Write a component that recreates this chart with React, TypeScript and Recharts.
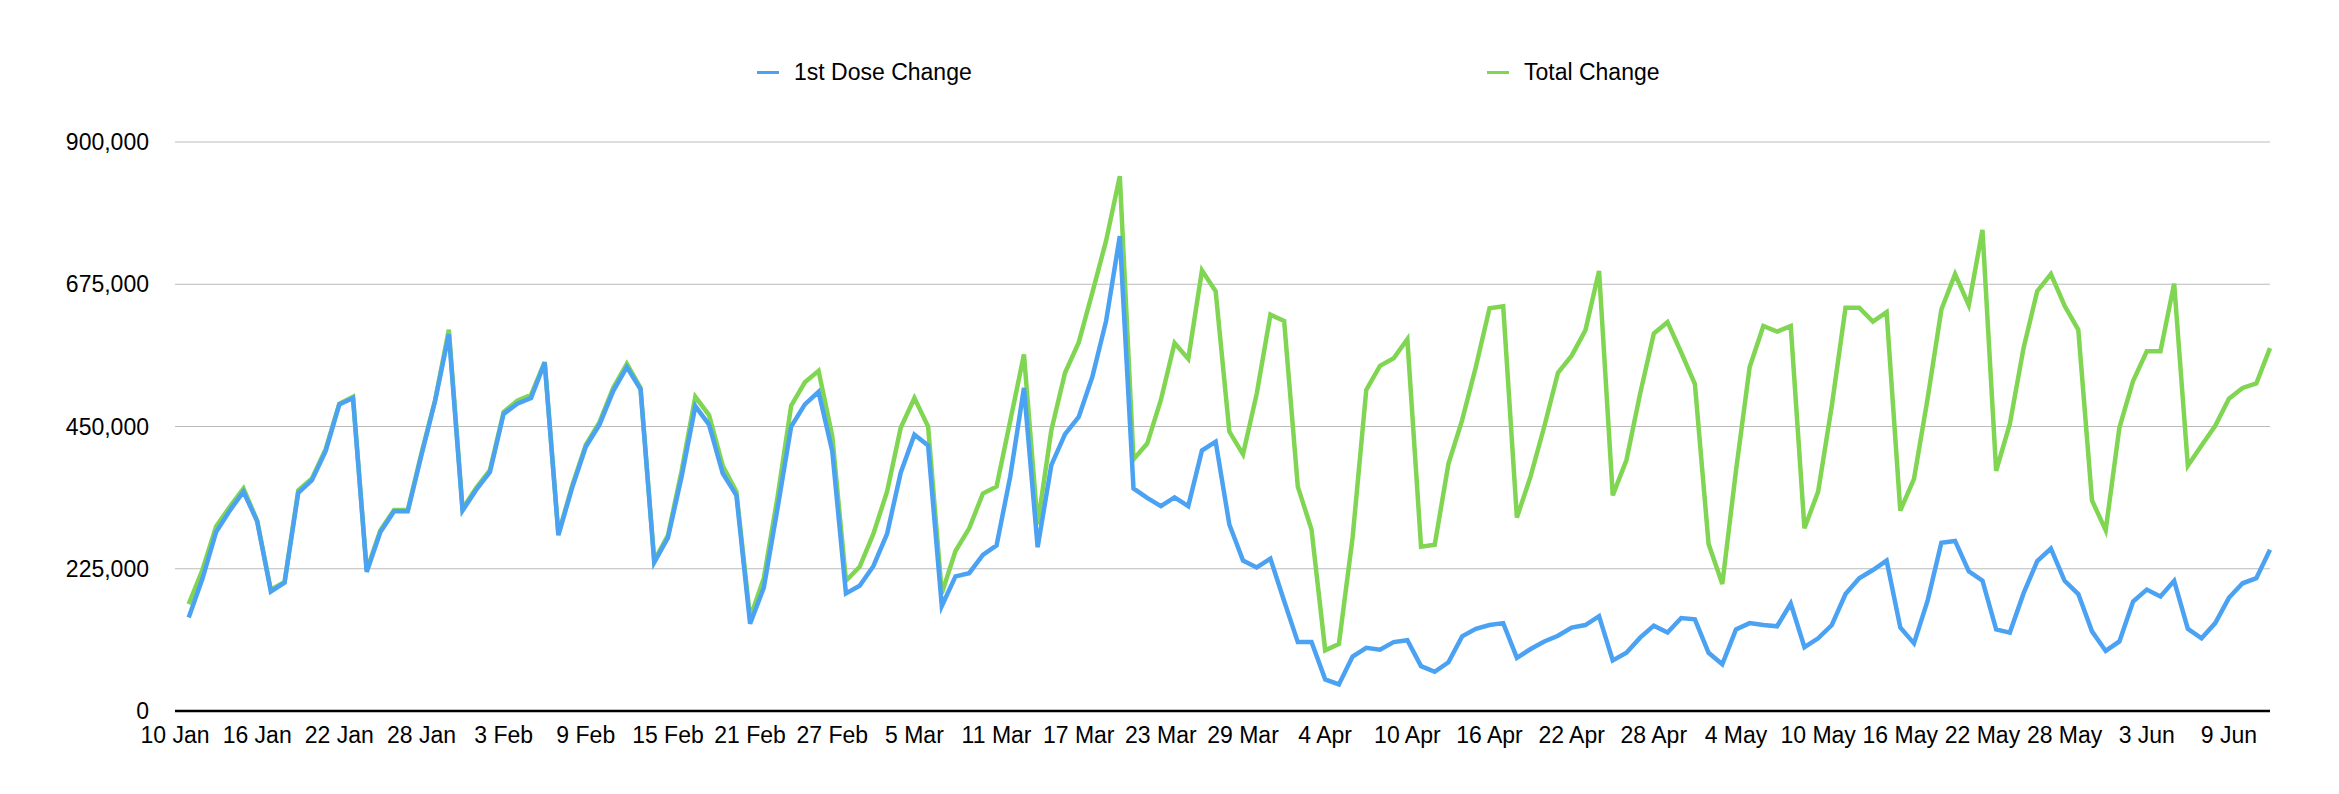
import React from "react";
import { LineChart, Line, XAxis, YAxis, CartesianGrid, Legend } from "recharts";

const dates: string[] = [
  "10 Jan","11 Jan","12 Jan","13 Jan","14 Jan","15 Jan","16 Jan","17 Jan","18 Jan","19 Jan","20 Jan",
  "21 Jan","22 Jan","23 Jan","24 Jan","25 Jan","26 Jan","27 Jan","28 Jan","29 Jan","30 Jan","31 Jan",
  "1 Feb","2 Feb","3 Feb","4 Feb","5 Feb","6 Feb","7 Feb","8 Feb","9 Feb","10 Feb","11 Feb","12 Feb",
  "13 Feb","14 Feb","15 Feb","16 Feb","17 Feb","18 Feb","19 Feb","20 Feb","21 Feb","22 Feb","23 Feb",
  "24 Feb","25 Feb","26 Feb","27 Feb","28 Feb",
  "1 Mar","2 Mar","3 Mar","4 Mar","5 Mar","6 Mar","7 Mar","8 Mar","9 Mar","10 Mar","11 Mar","12 Mar",
  "13 Mar","14 Mar","15 Mar","16 Mar","17 Mar","18 Mar","19 Mar","20 Mar","21 Mar","22 Mar","23 Mar",
  "24 Mar","25 Mar","26 Mar","27 Mar","28 Mar","29 Mar","30 Mar","31 Mar",
  "1 Apr","2 Apr","3 Apr","4 Apr","5 Apr","6 Apr","7 Apr","8 Apr","9 Apr","10 Apr","11 Apr","12 Apr",
  "13 Apr","14 Apr","15 Apr","16 Apr","17 Apr","18 Apr","19 Apr","20 Apr","21 Apr","22 Apr","23 Apr",
  "24 Apr","25 Apr","26 Apr","27 Apr","28 Apr","29 Apr","30 Apr",
  "1 May","2 May","3 May","4 May","5 May","6 May","7 May","8 May","9 May","10 May","11 May","12 May",
  "13 May","14 May","15 May","16 May","17 May","18 May","19 May","20 May","21 May","22 May","23 May",
  "24 May","25 May","26 May","27 May","28 May","29 May","30 May","31 May",
  "1 Jun","2 Jun","3 Jun","4 Jun","5 Jun","6 Jun","7 Jun","8 Jun","9 Jun","10 Jun","11 Jun","12 Jun",
];

const firstDoseChange: (number | null)[] = [
  null,
  148000, 209000, 283000, 317000, 347000, 300000, 189000, 203000, 345000, 365000,
  411000, 485000, 495000, 220000, 283000, 316000, 316000, 405000, 491000, 596000,
  317000, 350000, 378000, 470000, 486000, 495000, 551000, 278000, 353000, 418000,
  453000, 506000, 544000, 509000, 235000, 274000, 371000, 482000, 453000, 376000,
  341000, 138000, 195000, 320000, 450000, 485000, 505000, 411000, 186000, 198000,
  229000, 280000, 377000, 437000, 420000, 166000, 213000, 218000, 247000, 262000,
  371000, 511000, 259000, 389000, 438000, 465000, 529000, 617000, 751000, 352000,
  337000, 324000, 338000, 324000, 412000, 426000, 295000, 238000, 227000, 241000,
  174000, 109000, 109000, 50000, 42000, 86000, 100000, 97000, 109000, 112000,
  71000, 62000, 77000, 118000, 130000, 136000, 139000, 84000, 98000, 110000,
  119000, 132000, 136000, 150000, 80000, 92000, 116000, 135000, 124000, 147000,
  145000, 92000, 74000, 129000, 139000, 136000, 134000, 170000, 101000, 115000,
  136000, 185000, 210000, 223000, 238000, 132000, 107000, 175000, 266000, 269000,
  221000, 206000, 129000, 124000, 186000, 237000, 257000, 206000, 185000, 126000,
  95000, 110000, 173000, 192000, 181000, 206000, 130000, 115000, 139000, 179000,
  202000, 210000, 255000,
];

const totalChange: (number | null)[] = [
  null,
  169000, 223000, 292000, 323000, 352000, 301000, 192000, 204000, 349000, 368000,
  414000, 486000, 497000, 223000, 286000, 318000, 318000, 408000, 492000, 603000,
  320000, 353000, 381000, 473000, 491000, 500000, 552000, 280000, 356000, 421000,
  457000, 511000, 549000, 511000, 238000, 278000, 380000, 497000, 468000, 388000,
  347000, 147000, 210000, 338000, 483000, 520000, 538000, 435000, 206000, 228000,
  280000, 347000, 448000, 495000, 450000, 186000, 253000, 289000, 344000, 355000,
  459000, 564000, 295000, 444000, 535000, 583000, 662000, 744000, 846000, 398000,
  423000, 492000, 582000, 557000, 697000, 664000, 442000, 406000, 502000, 627000,
  617000, 355000, 287000, 96000, 106000, 274000, 508000, 546000, 558000, 588000,
  260000, 263000, 391000, 460000, 544000, 637000, 640000, 306000, 371000, 450000,
  535000, 562000, 602000, 696000, 341000, 397000, 502000, 597000, 615000, 567000,
  517000, 264000, 201000, 380000, 544000, 609000, 600000, 609000, 289000, 347000,
  483000, 638000, 638000, 616000, 631000, 317000, 367000, 495000, 635000, 691000,
  642000, 761000, 380000, 454000, 574000, 664000, 691000, 641000, 603000, 333000,
  286000, 448000, 522000, 569000, 569000, 676000, 388000, 420000, 451000, 494000,
  511000, 518000, 574000,
];

const yTicks: number[] = [0, 225000, 450000, 675000, 900000];

const data = dates.map((date, i) => ({
  date,
  firstDose: firstDoseChange[i],
  total: totalChange[i],
}));

const BLUE = "#4ba2f2";
const GREEN = "#80d552";
const FONT = "'Liberation Sans', Arial, Helvetica, sans-serif";

const legendItems = [
  { label: "1st Dose Change", color: BLUE, left: 749 },
  { label: "Total Change", color: GREEN, left: 1479 },
];

const renderLegend = () => (
  <div style={{ position: "relative", width: 2323, height: 32, fontFamily: FONT }}>
    {legendItems.map((it) => (
      <div
        key={it.label}
        style={{
          position: "absolute",
          left: it.left,
          top: 0,
          height: 32,
          display: "flex",
          alignItems: "center",
          fontSize: 23,
          color: "#000",
          whiteSpace: "nowrap",
        }}
      >
        <span style={{ display: "inline-block", width: 22, height: 3, background: it.color, marginRight: 15 }} />
        <span>{it.label}</span>
      </div>
    ))}
  </div>
);

export default function App() {
  return (
    <div style={{ width: 2323, height: 778, background: "#fff", fontFamily: FONT }}>
      <LineChart
        width={2323}
        height={778}
        data={data}
        margin={{ top: 102, right: 61, bottom: 15, left: 0 }}
      >
        <Legend
          verticalAlign="top"
          content={renderLegend}
          wrapperStyle={{ top: 48, left: 0, width: 2323, height: 32 }}
        />
        <CartesianGrid vertical={false} stroke="#bbbbbb" strokeWidth={1} />
        <XAxis
          dataKey="date"
          interval={5}
          tickLine={false}
          tickSize={0}
          tickMargin={16}
          height={60}
          axisLine={{ stroke: "#000", strokeWidth: 2.5 }}
          tick={{ fontSize: 23, fill: "#000", fontFamily: FONT }}
        />
        <YAxis
          width={167}
          domain={[0, 900000]}
          ticks={yTicks}
          interval={0}
          axisLine={false}
          tickLine={false}
          tickSize={0}
          tickMargin={26}
          tickFormatter={(v: number) => v.toLocaleString("en-US")}
          tick={{ fontSize: 23, fill: "#000", fontFamily: FONT }}
        />
        <Line
          type="linear"
          dataKey="total"
          name="Total Change"
          stroke={GREEN}
          strokeWidth={4.5}
          dot={false}
          activeDot={false}
          isAnimationActive={false}
        />
        <Line
          type="linear"
          dataKey="firstDose"
          name="1st Dose Change"
          stroke={BLUE}
          strokeWidth={4.5}
          dot={false}
          activeDot={false}
          isAnimationActive={false}
        />
      </LineChart>
    </div>
  );
}
